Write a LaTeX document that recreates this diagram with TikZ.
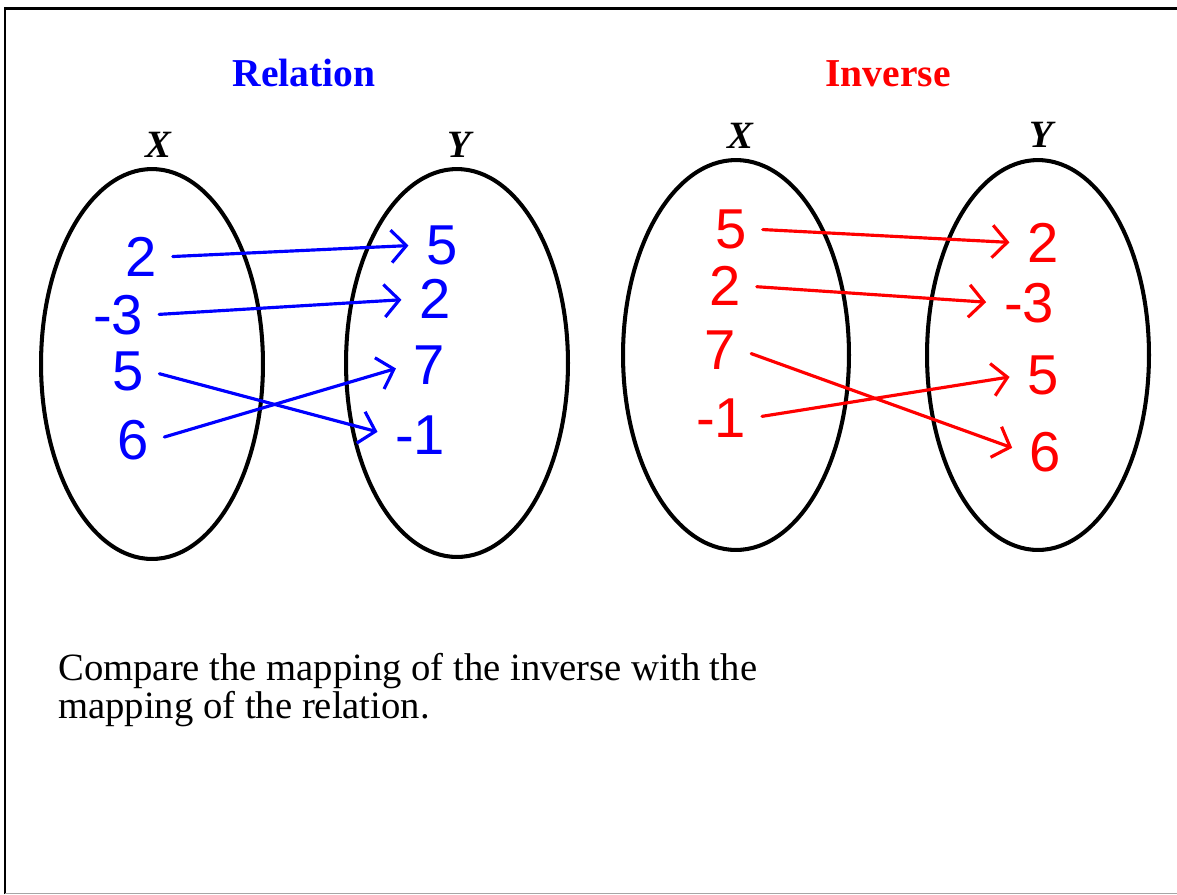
\documentclass[tikz,border=0pt]{standalone}
\usepackage{fontspec}
\setmainfont{Liberation Serif}
\newfontfamily\handfont{Liberation Sans}
\usetikzlibrary{arrows.meta}

\definecolor{relblue}{RGB}{0,0,255}
\definecolor{invred}{RGB}{255,0,0}

\tikzset{
  setoval/.style={line width=2.3pt},
  num/.style={font=\handfont\fontsize{32}{32}\selectfont, inner sep=3pt},
  setname/.style={font=\bfseries\itshape\fontsize{22}{22}\selectfont, anchor=base},
  heading/.style={font=\bfseries\fontsize{22.5}{22.5}\selectfont, anchor=base},
  mapto/.style={line width=1.8pt, line cap=round, shorten <=6pt, shorten >=7pt,
    -{Straight Barb[length=3mm, width=6.5mm, line width=1.8pt]}}
}

\begin{document}
\begin{tikzpicture}[x=0.02cm, y=-0.02cm]

\useasboundingbox (0,0) rectangle (1177,894);

% Frame
\draw[line width=1.7pt] (5,894) -- (5,8.5) -- (1177,8.5);
\draw[gray!70, line width=0.5pt] (5,893) -- (1177,893);

% Headings
\node[heading, text=relblue] (relhead) at (304,86) {Relation};
\node[heading, text=invred] (invhead) at (888,86) {Inverse};

% Set ovals
\draw[setoval] (152,364) ellipse [x radius=2.22cm, y radius=3.9cm];
\draw[setoval] (457,363) ellipse [x radius=2.22cm, y radius=3.88cm];
\draw[setoval] (736,355) ellipse [x radius=2.26cm, y radius=3.9cm];
\draw[setoval] (1038,355) ellipse [x radius=2.22cm, y radius=3.9cm];

% Set names
\node[setname] (rx) at (158,157) {X};
\node[setname] (ry) at (459,157) {Y};
\node[setname] (ix) at (740,148) {X};
\node[setname] (iy) at (1041,147) {Y};

% Relation
\begin{scope}[text=relblue]
\node[num] (r2) at (141,257) {2};
\node[num] (rm3) at (118,315) {-3};
\node[num] (r5) at (128,371) {5};
\node[num] (r6) at (133,440) {6};
\node[num] (s5) at (442,245) {5};
\node[num] (s2) at (435,299) {2};
\node[num] (s7) at (429,365) {7};
\node[num] (sm1) at (420,435) {-1};
\end{scope}
\draw[mapto, relblue] (r2.east) -- (s5.west);
\draw[mapto, relblue] (rm3.east) -- (s2.west);
\draw[mapto, relblue] (r5.east) -- (sm1.west);
\draw[mapto, relblue] (r6.east) -- (s7.west);

% Inverse
\begin{scope}[text=invred]
\node[num] (i5) at (731,229) {5};
\node[num] (i2) at (725,286) {2};
\node[num] (i7) at (720,350) {7};
\node[num] (im1) at (721,418) {-1};
\node[num] (j2) at (1043,243) {2};
\node[num] (jm3) at (1029,303) {-3};
\node[num] (j5) at (1043,375) {5};
\node[num] (j6) at (1045,452) {6};
\end{scope}
\draw[mapto, invred] (i5.east) -- (j2.west);
\draw[mapto, invred] (i2.east) -- (jm3.west);
\draw[mapto, invred] (i7.east) -- (j6.west);
\draw[mapto, invred] (im1.east) -- (j5.west);

% Question
\node[anchor=base west, align=left, inner sep=0pt,
  font=\fontsize{22}{17.6}\selectfont] (task) at (58,718)
  {Compare the mapping of the inverse with the\\mapping of the relation.};

\end{tikzpicture}
\end{document}
